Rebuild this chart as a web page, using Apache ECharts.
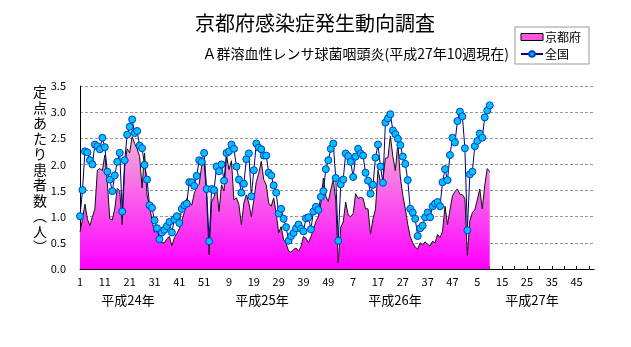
<!DOCTYPE html>
<html><head><meta charset="utf-8">
<script src="https://cdn.jsdelivr.net/npm/echarts@6/dist/echarts.min.js"></script>
<style>html,body{margin:0;padding:0;background:#fff}#c{width:631px;height:347px}</style>
</head><body><div id="c"></div>
<script>
var yearWeeks = [52, 52, 52, 52];
var yearLabels = ['平成24年', '平成25年', '平成26年', '平成27年'];
var yTicks = [0, 0.5, 1, 1.5, 2, 2.5, 3, 3.5];
var kyoto = [
0.71,0.95,1.24,0.95,0.83,1.00,1.15,1.89,1.92,1.88,2.18,1.65,0.96,0.94,1.15,1.54,1.50,0.85,1.95,2.30,
2.22,2.53,2.40,2.30,2.15,1.55,2.22,1.41,1.22,0.93,0.70,0.80,0.61,0.50,0.50,0.58,0.62,0.44,0.60,0.68,
0.77,0.92,1.08,1.35,1.28,1.22,1.44,1.57,1.62,1.97,2.05,1.38,0.27,1.29,1.38,1.57,1.10,1.61,1.49,2.18,
1.90,2.07,1.32,1.36,1.23,0.85,1.26,1.42,1.26,1.00,1.32,1.67,1.83,2.06,1.71,1.61,1.26,1.20,1.36,1.07,
0.69,0.81,0.56,0.50,0.34,0.32,0.37,0.40,0.34,0.43,0.62,0.59,0.50,0.62,0.75,0.91,1.00,1.26,1.74,1.39,
1.29,1.51,1.71,1.32,0.12,0.80,0.90,1.28,1.03,1.00,1.06,1.44,1.35,1.37,1.35,1.15,1.15,0.67,0.96,1.15,
1.89,1.67,1.70,2.12,2.13,2.54,2.15,1.88,2.40,1.76,1.41,1.15,0.85,0.62,0.50,0.42,0.38,0.50,0.46,0.52,
0.47,0.44,0.53,0.50,0.66,0.60,0.72,1.20,0.85,1.13,1.40,1.48,1.53,1.43,1.42,1.35,0.26,0.92,1.08,1.13,
1.32,1.53,1.15,1.60,1.92,1.86];
var zenkoku = [
1.01,1.51,2.25,2.23,2.08,2.00,2.38,2.35,2.29,2.51,2.33,1.86,1.71,1.49,1.79,2.05,2.22,1.10,2.08,2.57,
2.72,2.86,2.60,2.64,2.36,2.31,1.99,1.71,1.22,1.17,0.93,0.78,0.57,0.70,0.75,0.82,0.90,0.70,0.95,1.01,
0.88,1.15,1.22,1.25,1.66,1.66,1.59,1.78,2.08,2.05,2.22,1.53,0.53,1.53,1.51,1.96,1.87,2.00,1.69,2.22,
2.25,2.38,2.30,1.96,1.71,1.46,1.63,2.10,2.21,1.39,1.89,2.40,2.32,2.29,2.17,2.17,1.84,1.79,1.60,1.46,
1.06,1.15,0.96,0.80,0.54,0.63,0.69,0.78,0.85,0.77,0.72,0.97,0.99,0.76,1.10,1.19,1.13,1.38,1.49,1.91,
2.08,2.30,2.40,1.74,0.54,1.62,1.71,2.21,2.16,2.05,1.76,2.15,2.30,2.21,2.17,1.84,1.69,1.44,1.61,2.13,
2.38,1.96,1.65,2.80,2.88,2.96,2.65,2.58,2.49,2.37,2.15,2.01,1.70,1.15,1.08,0.96,0.63,0.78,0.83,0.99,
1.08,0.99,1.20,1.25,1.28,1.20,1.66,1.91,1.70,2.18,2.51,2.42,2.83,3.01,2.92,2.31,0.74,1.81,1.86,2.35,
2.45,2.59,2.51,2.90,3.03,3.13];

var categories = [];
yearWeeks.forEach(function (n) { for (var w = 1; w <= n; w++) categories.push(String(w)); });

var FONT = '"Noto Sans CJK JP", sans-serif';
var yName = '定\n点\nあ\nた\nり\n患\n者\n数\n︵\n人\n︶';
var yearX = [128, 262, 395, 532];
var graphics = [{type: 'text', left: 33, top: 84,
  style: {text: yName, font: '14px ' + FONT, lineHeight: 15.5, fill: '#000', align: 'center'}}];
yearLabels.forEach(function (t, i) {
  graphics.push({type: 'text', x: yearX[i], y: 300,
    style: {text: t, font: '13px ' + FONT, fill: '#000', align: 'center', verticalAlign: 'middle'}});
});

var chart = echarts.init(document.getElementById('c'), null, {renderer: 'canvas'});
chart.setOption({
  animation: false,
  backgroundColor: '#fff',
  textStyle: {fontFamily: FONT},
  title: [
    {text: '京都府感染症発生動向調査', left: 310, top: 8, textAlign: 'center',
     textStyle: {fontSize: 20, fontWeight: 'normal', color: '#000', fontFamily: FONT}},
    {text: 'Ａ群溶血性レンサ球菌咽頭炎(平成27年10週現在)', right: 117, top: 42,
     textStyle: {fontSize: 14, fontWeight: 'normal', color: '#000', fontFamily: FONT}}
  ],
  legend: {
    orient: 'vertical', left: 515, top: 27, padding: [4, 8, 4, 5], itemGap: 5,
    itemWidth: 22, itemHeight: 7,
    borderColor: '#999', borderWidth: 1,
    textStyle: {fontSize: 12, color: '#000', fontFamily: FONT, padding: [0, 0, 0, -3]},
    data: [
      {name: '京都府', icon: 'rect', itemStyle: {color: '#ff55dd', borderColor: '#000', borderWidth: 1}},
      {name: '全国'}
    ]
  },
  grid: {left: 80, right: 37, top: 86, bottom: 78},
  xAxis: {
    type: 'category', data: categories, boundaryGap: false,
    axisLine: {lineStyle: {color: '#000', width: 1}},
    axisTick: {interval: 4, inside: true, length: 3, lineStyle: {color: '#000'}},
    axisLabel: {interval: 9, color: '#000', fontSize: 11, margin: 7, fontFamily: FONT},
    splitLine: {show: false}
  },
  yAxis: {
    type: 'value', min: yTicks[0], max: yTicks[yTicks.length - 1], interval: 0.5,
    axisLine: {show: true, lineStyle: {color: '#000'}},
    axisTick: {show: false},
    axisLabel: {color: '#000', fontSize: 11, margin: 14, fontFamily: FONT,
      formatter: function (v) { return v.toFixed(1); }},
    splitLine: {lineStyle: {color: '#999', type: [3, 2], width: 1}}
  },
  series: [
    {name: '京都府', type: 'line', data: kyoto, symbol: 'none',
     lineStyle: {color: '#111', width: 1},
     itemStyle: {color: '#ff55dd'},
     areaStyle: {opacity: 1, color: new echarts.graphic.LinearGradient(0, 0, 0, 1, [
       {offset: 0, color: '#f4b0da'}, {offset: 1, color: '#ff00ff'}])},
     z: 2},
    {name: '全国', type: 'line', data: zenkoku, symbol: 'circle', symbolSize: 7,
     showAllSymbol: true,
     lineStyle: {color: '#000080', width: 1},
     itemStyle: {color: '#00c0ff', borderColor: '#0040c0', borderWidth: 1},
     z: 3}
  ],
  graphic: graphics
});
</script></body></html>
